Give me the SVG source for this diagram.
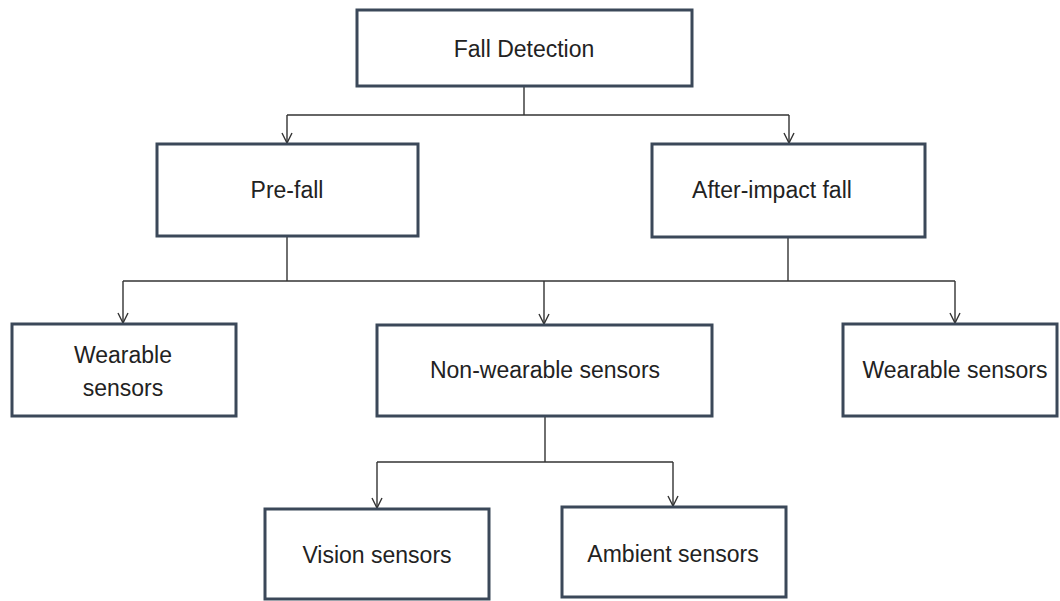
<svg xmlns="http://www.w3.org/2000/svg" width="1060" height="601" viewBox="0 0 1060 601">
  <style>
    .box { fill: #ffffff; stroke: #3b4859; stroke-width: 3; }
    .label { font-family: "Liberation Sans", Arial, sans-serif; font-size: 23px; fill: #222222; text-anchor: middle; }
    .wire { fill: none; stroke: #333333; stroke-width: 1.4; }
  </style>
  <defs>
    <marker id="arrow" viewBox="0 0 12 12" refX="11" refY="6" markerWidth="12" markerHeight="12" markerUnits="userSpaceOnUse" orient="auto">
      <path d="M1,1 L11,6 L1,11" fill="none" stroke="#333333" stroke-width="1.4"/>
    </marker>
  </defs>
  <rect width="1060" height="601" fill="#ffffff"/>

  <!-- connectors -->
  <g id="connectors" class="wire">
    <path d="M524,86 V115"/>
    <path d="M287,115 H789"/>
    <path d="M287,115 V143" marker-end="url(#arrow)"/>
    <path d="M789,115 V143" marker-end="url(#arrow)"/>
    <path d="M287,236 V281"/>
    <path d="M788,237 V281"/>
    <path d="M123,281 H955"/>
    <path d="M123,281 V323" marker-end="url(#arrow)"/>
    <path d="M544,281 V324" marker-end="url(#arrow)"/>
    <path d="M955,281 V323" marker-end="url(#arrow)"/>
    <path d="M545,416 V462"/>
    <path d="M377,462 H673"/>
    <path d="M377,462 V508" marker-end="url(#arrow)"/>
    <path d="M673,462 V506" marker-end="url(#arrow)"/>
  </g>

  <g id="fall-detection">
    <rect class="box" x="357" y="10" width="335" height="76"/>
    <text class="label" x="524" y="57">Fall Detection</text>
  </g>
  <g id="pre-fall">
    <rect class="box" x="157" y="144" width="261" height="92"/>
    <text class="label" x="287" y="198">Pre-fall</text>
  </g>
  <g id="after-impact-fall">
    <rect class="box" x="652" y="144" width="273" height="93"/>
    <text class="label" x="772" y="198">After-impact fall</text>
  </g>
  <g id="wearable-left">
    <rect class="box" x="12" y="324" width="224" height="92"/>
    <text class="label" x="123" y="363">Wearable</text>
    <text class="label" x="123" y="396">sensors</text>
  </g>
  <g id="non-wearable">
    <rect class="box" x="377" y="325" width="335" height="91"/>
    <text class="label" x="545" y="378">Non-wearable sensors</text>
  </g>
  <g id="wearable-right">
    <rect class="box" x="843" y="324" width="214" height="92"/>
    <text class="label" x="955" y="378">Wearable sensors</text>
  </g>
  <g id="vision">
    <rect class="box" x="265" y="509" width="224" height="90"/>
    <text class="label" x="377" y="563">Vision sensors</text>
  </g>
  <g id="ambient">
    <rect class="box" x="562" y="507" width="224" height="90"/>
    <text class="label" x="673" y="562">Ambient sensors</text>
  </g>
</svg>
